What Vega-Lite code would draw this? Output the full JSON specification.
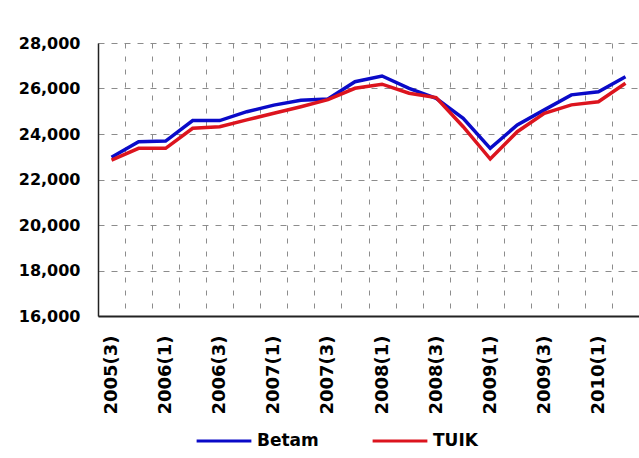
{
  "$schema": "https://vega.github.io/schema/vega-lite/v6.json",
  "width": 541,
  "height": 273,
  "autosize": {"type": "none"},
  "padding": {"left": 98, "top": 43, "right": 0, "bottom": 142},
  "background": "white",
  "config": {
    "view": {"stroke": null},
    "font": "DejaVu Sans"
  },
  "data": {
    "values": [
      {"q": "2005(3)", "series": "Betam", "value": 22980},
      {"q": "2005(4)", "series": "Betam", "value": 23660},
      {"q": "2006(1)", "series": "Betam", "value": 23690},
      {"q": "2006(2)", "series": "Betam", "value": 24590},
      {"q": "2006(3)", "series": "Betam", "value": 24590},
      {"q": "2006(4)", "series": "Betam", "value": 24980},
      {"q": "2007(1)", "series": "Betam", "value": 25270},
      {"q": "2007(2)", "series": "Betam", "value": 25480},
      {"q": "2007(3)", "series": "Betam", "value": 25540},
      {"q": "2007(4)", "series": "Betam", "value": 26300},
      {"q": "2008(1)", "series": "Betam", "value": 26550},
      {"q": "2008(2)", "series": "Betam", "value": 26010},
      {"q": "2008(3)", "series": "Betam", "value": 25570},
      {"q": "2008(4)", "series": "Betam", "value": 24690},
      {"q": "2009(1)", "series": "Betam", "value": 23370},
      {"q": "2009(2)", "series": "Betam", "value": 24400},
      {"q": "2009(3)", "series": "Betam", "value": 25060},
      {"q": "2009(4)", "series": "Betam", "value": 25720},
      {"q": "2010(1)", "series": "Betam", "value": 25860},
      {"q": "2010(2)", "series": "Betam", "value": 26520},
      {"q": "2005(3)", "series": "TUIK", "value": 22850},
      {"q": "2005(4)", "series": "TUIK", "value": 23370},
      {"q": "2006(1)", "series": "TUIK", "value": 23370},
      {"q": "2006(2)", "series": "TUIK", "value": 24250},
      {"q": "2006(3)", "series": "TUIK", "value": 24320},
      {"q": "2006(4)", "series": "TUIK", "value": 24620},
      {"q": "2007(1)", "series": "TUIK", "value": 24910},
      {"q": "2007(2)", "series": "TUIK", "value": 25200},
      {"q": "2007(3)", "series": "TUIK", "value": 25510},
      {"q": "2007(4)", "series": "TUIK", "value": 26010},
      {"q": "2008(1)", "series": "TUIK", "value": 26190},
      {"q": "2008(2)", "series": "TUIK", "value": 25790},
      {"q": "2008(3)", "series": "TUIK", "value": 25600},
      {"q": "2008(4)", "series": "TUIK", "value": 24320},
      {"q": "2009(1)", "series": "TUIK", "value": 22900},
      {"q": "2009(2)", "series": "TUIK", "value": 24100},
      {"q": "2009(3)", "series": "TUIK", "value": 24910},
      {"q": "2009(4)", "series": "TUIK", "value": 25280},
      {"q": "2010(1)", "series": "TUIK", "value": 25420},
      {"q": "2010(2)", "series": "TUIK", "value": 26230}
    ]
  },
  "mark": {"type": "line", "strokeWidth": 3.5, "interpolate": "linear"},
  "encoding": {
    "x": {
      "field": "q",
      "type": "ordinal",
      "sort": null,
      "scale": {"type": "band", "paddingInner": 0, "paddingOuter": 0},
      "axis": {
        "title": null,
        "tickBand": "extent",
        "ticks": false,
        "labelAngle": -90,
        "labelAlign": "right",
        "labelBaseline": "middle",
        "labelPadding": 19,
        "labelFont": "DejaVu Sans",
        "labelFontWeight": "bold",
        "labelFontSize": 18,
        "labelColor": "#000000",
        "labelExpr": "substring(datum.value, 5, 6) == '1' || substring(datum.value, 5, 6) == '3' ? datum.value : ''",
        "domainColor": "#222222",
        "domainWidth": 2,
        "grid": true,
        "gridColor": "#8c8c8c",
        "gridDash": [5, 8],
        "gridWidth": 1
      }
    },
    "y": {
      "field": "value",
      "type": "quantitative",
      "scale": {"domain": [16000, 28000], "nice": false, "zero": false},
      "axis": {
        "title": null,
        "values": [16000, 18000, 20000, 22000, 24000, 26000, 28000],
        "format": ",.0f",
        "ticks": false,
        "labelPadding": 18,
        "labelFont": "DejaVu Sans",
        "labelFontWeight": "bold",
        "labelFontSize": 16,
        "labelColor": "#000000",
        "domainColor": "#222222",
        "domainWidth": 1.5,
        "grid": true,
        "gridColor": "#8c8c8c",
        "gridDash": [6, 7],
        "gridWidth": 1
      }
    },
    "color": {
      "field": "series",
      "type": "nominal",
      "scale": {"domain": ["Betam", "TUIK"], "range": ["#0a0ac8", "#dc141e"]},
      "legend": {
        "title": null,
        "orient": "none",
        "direction": "horizontal",
        "legendX": 97,
        "legendY": 369,
        "symbolType": "stroke",
        "symbolSize": 3000,
        "symbolStrokeWidth": 3,
        "labelFont": "DejaVu Sans",
        "labelFontWeight": "bold",
        "labelFontSize": 17,
        "labelColor": "#000000",
        "labelOffset": 4,
        "columnPadding": 47
      }
    }
  }
}
